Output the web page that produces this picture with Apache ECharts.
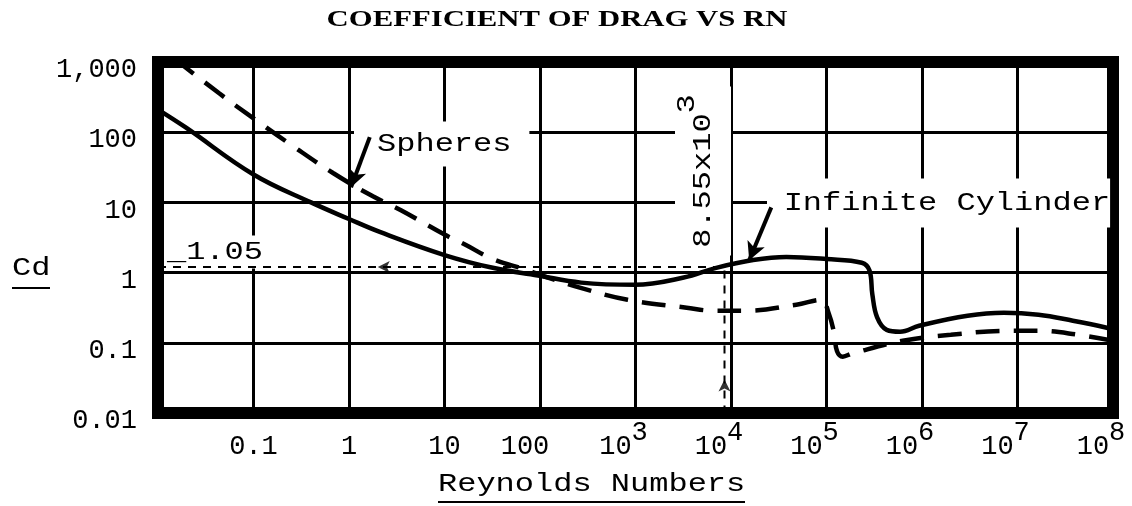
<!DOCTYPE html>
<html>
<head>
<meta charset="utf-8">
<title>Coefficient of drag vs RN</title>
<script src="https://cdn.jsdelivr.net/npm/echarts@6.0.0/dist/echarts.min.js"></script>
<style>
html, body { margin: 0; padding: 0; background: #fff; }
#main { width: 1132px; height: 506px; }
</style>
</head>
<body>
<div id="main"></div>
<script>
// 刻度文字
var xTickLabels = ['', '0.1', '1', '10', '100', '10^3', '10^4', '10^5', '10^6', '10^7', '10^8'];
var yTickLabels = ['0.01', '0.1', '1', '10', '100', '1,000'];

// Infinite Cylinder (实线)
var cylinderRe = [0.01, 0.0195, 0.1, 0.4, 1, 2.1, 10, 32, 95, 270,
	980, 3200, 7000, 17000, 38000, 1e5, 2.34e5, 2.82e5, 3.02e5, 3.39e5,
	4.27e5, 5.89e5, 9.33e5, 3.0e6, 7.2e6, 1.66e7, 3.8e7, 8.6e7, 1e8];
var cylinderCd = [210, 117, 25, 10, 5.8, 3.8, 1.78, 1.17, 0.91, 0.72,
	0.67, 0.85, 1.17, 1.51, 1.67, 1.56, 1.38, 1.07, 0.49, 0.23,
	0.153, 0.144, 0.175, 0.243, 0.268, 0.251, 0.206, 0.164, 0.153];

// Spheres (虚线)
var sphereRe = [0.015, 0.0437, 0.105, 0.252, 0.687, 1.78, 3.5, 10, 16.2, 32,
	71, 121, 261, 826, 3430, 6520, 14400, 48300, 88500, 1.05e5,
	1.2e5, 1.29e5, 1.48e5, 1.86e5, 6.3e5, 2.0e6, 8.1e6, 1.66e7, 4.35e7, 1e8];
var sphereCd = [1100, 358, 150, 65, 26, 12.2, 7.74, 3.48, 2.53, 1.56,
	1.1, 0.85, 0.61, 0.41, 0.316, 0.287, 0.287, 0.349, 0.41, 0.268,
	0.139, 0.0757, 0.0635, 0.0705, 0.107, 0.13, 0.148, 0.148, 0.13, 0.107];

// 参考线 (Cd 1.05 / Re 8.55x10^3)
var refRe = [0.01, 8550, 8550];
var refCd = [1.2, 1.2, 0.01];
var refArrowRe = [2, 8550];
var refArrowCd = [1.2, 0.03];

// 标注箭头 [起点, 终点]
var pointerRe = [[1.65, 1.05], [26400, 15500]];
var pointerCd = [[85, 16.4], [8.5, 1.5]];

var typeFont = '"Liberation Mono", "DejaVu Sans Mono", monospace';

var pairs = function(xs, ys){
	return xs.map(function(x, i){ return [x, ys[i]]; });
};

var initChart = function(){
	var myChart = echarts.init(document.getElementById('main'), null, {renderer: 'canvas'});

	var marks = pointerRe.map(function(re, i){
		return [{coord: [re[0], pointerCd[i][0]]}, {coord: [re[1], pointerCd[i][1]]}];
	});

	var option = {
		animation: false,
		backgroundColor: '#fff',
		grid: {
			left: 158, right: 19, top: 62, bottom: 93,
			show: true,
			borderColor: '#000',
			borderWidth: 12,
			backgroundColor: 'transparent',
			outerBoundsMode: 'none'
		},
		xAxis: {
			type: 'log',
			logBase: 10,
			min: 0.01,
			max: 1e8,
			interval: 1,
			axisLine: {show: false},
			axisTick: {show: false},
			splitLine: {show: true, lineStyle: {color: '#000', width: 3}},
			axisLabel: {
				margin: 6,
				showMinLabel: true,
				showMaxLabel: true,
				hideOverlap: false,
				color: '#000',
				formatter: function(v){
					var t = xTickLabels[Math.round(Math.log(v) / Math.LN10) + 2] || '';
					if (t.indexOf('^') > 0) {
						var p = t.split('^');
						return '{b|' + p[0] + '}{s|' + p[1] + '}';
					}
					if (t === '100') return '{h|' + t + '}';
					return '{b|' + t + '}';
				},
				rich: {
					b: {fontFamily: typeFont, fontSize: 27, lineHeight: 56, color: '#000'},
					h: {fontFamily: typeFont, fontSize: 27, lineHeight: 56, color: '#000', padding: [0, 30, 0, 0]},
					s: {fontFamily: typeFont, fontSize: 27, color: '#000', verticalAlign: 'top', padding: [0, 24, 0, 0]}
				}
			}
		},
		yAxis: {
			type: 'log',
			logBase: 10,
			min: 0.01,
			max: 1000,
			interval: 1,
			axisLine: {show: false},
			axisTick: {show: false},
			splitLine: {show: true, lineStyle: {color: '#000', width: 3}},
			axisLabel: {
				margin: 21,
				showMinLabel: true,
				showMaxLabel: true,
				color: '#000',
				fontFamily: typeFont,
				fontSize: 27,
				verticalAlign: 'top',
				lineHeight: 16,
				formatter: function(v){
					return yTickLabels[Math.round(Math.log(v) / Math.LN10) + 2] || '';
				}
			}
		},
		series: [
			{
				name: 'Infinite Cylinder',
				type: 'line',
				data: pairs(cylinderRe, cylinderCd),
				showSymbol: false,
				smooth: 0.4,
				lineStyle: {color: '#000', width: 4.5}
			},
			{
				name: 'Spheres',
				type: 'line',
				data: pairs(sphereRe, sphereCd),
				showSymbol: false,
				smooth: 0.4,
				lineStyle: {color: '#000', width: 4.5, type: [24, 14]}
			},
			{
				name: 'ref',
				type: 'line',
				data: pairs(refRe, refCd),
				showSymbol: false,
				lineStyle: {color: '#000', width: 2, type: [8, 7]},
				markLine: {
					silent: true,
					symbol: ['none', 'arrow'],
					symbolSize: [14, 18],
					label: {show: false},
					lineStyle: {color: '#000', width: 4, type: 'solid'},
					data: marks
				}
			},
			{
				name: 'refArrow',
				type: 'scatter',
				symbol: 'arrow',
				symbolSize: [9, 12],
				itemStyle: {color: '#000'},
				data: pairs(refArrowRe, refArrowCd).map(function(d, i){
					return {value: d, symbolRotate: i === 0 ? 90 : 0};
				})
			}
		],
		graphic: [
			{
				type: 'text', x: 557, y: 20, scaleX: 1.28, z: 1,
				style: {
					text: 'COEFFICIENT OF DRAG VS RN',
					font: 'bold 24px "Liberation Serif", serif',
					fill: '#000', align: 'center', verticalAlign: 'middle',
					textAlign: 'center', textVerticalAlign: 'middle'
				}
			},
			{
				type: 'text', x: 354, y: 144, scaleX: 1.28, z: 1,
				style: {
					text: 'Spheres', font: '25px ' + typeFont, fill: '#000',
					align: 'left', verticalAlign: 'middle', textAlign: 'left', textVerticalAlign: 'middle',
					backgroundColor: '#fff', padding: [10, 14, 10, 18]
				}
			},
			{
				type: 'text', x: 767, y: 203, scaleX: 1.28, z: 1,
				style: {
					text: 'Infinite Cylinder', font: '25px ' + typeFont, fill: '#000',
					align: 'left', verticalAlign: 'middle', textAlign: 'left', textVerticalAlign: 'middle',
					backgroundColor: '#fff', padding: [12, 0, 12, 13]
				}
			},
			{
				type: 'text', x: 703, y: 171, scaleX: 1.28, rotation: Math.PI / 2, z: 1,
				style: {
					text: '{b|8.55x10}{s|3}', fill: '#000',
					align: 'center', verticalAlign: 'middle', textAlign: 'center', textVerticalAlign: 'middle',
					backgroundColor: '#fff', padding: [0, 6, 0, 6],
					rich: {
						b: {font: '25px ' + typeFont, lineHeight: 56},
						s: {font: '25px ' + typeFont, verticalAlign: 'top'}
					}
				}
			},
			{
				type: 'text', x: 167, y: 252, scaleX: 1.28, z: 1,
				style: {
					text: '_1.05', font: '25px ' + typeFont, fill: '#000',
					align: 'left', verticalAlign: 'middle', textAlign: 'left', textVerticalAlign: 'middle',
					backgroundColor: '#fff', padding: [8, 6, 0, 0]
				}
			},
			{
				type: 'text', x: 12, y: 268, scaleX: 1.28, z: 1,
				style: {
					text: 'Cd', font: '25px ' + typeFont, fill: '#000',
					align: 'left', verticalAlign: 'middle', textAlign: 'left', textVerticalAlign: 'middle'
				}
			},
			{
				type: 'line', z: 1,
				shape: {x1: 12, y1: 288, x2: 50, y2: 288},
				style: {stroke: '#000', lineWidth: 2}
			},
			{
				type: 'text', x: 438, y: 484, scaleX: 1.28, z: 1,
				style: {
					text: 'Reynolds Numbers', font: '25px ' + typeFont, fill: '#000',
					align: 'left', verticalAlign: 'middle', textAlign: 'left', textVerticalAlign: 'middle'
				}
			},
			{
				type: 'line', z: 1,
				shape: {x1: 438, y1: 502, x2: 745, y2: 502},
				style: {stroke: '#000', lineWidth: 2}
			}
		]
	};

	myChart.setOption(option);
};

window.onload = function(){
	initChart();
};
</script>
</body>
</html>
